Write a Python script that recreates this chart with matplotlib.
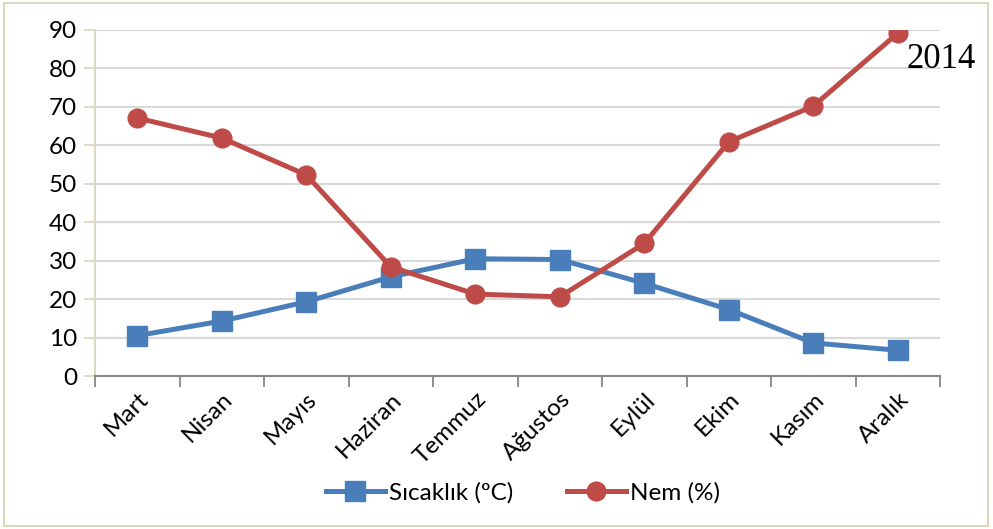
import matplotlib.pyplot as plt
from matplotlib.patches import Rectangle
import numpy as np

months = ["Mart", "Nisan", "Mayıs", "Haziran", "Temmuz", "Ağustos",
          "Eylül", "Ekim", "Kasım", "Aralık"]
sicaklik = [10.5, 14.3, 19.3, 25.8, 30.5, 30.3, 24.1, 17.3, 8.6, 6.7]
nem = [67.1, 61.9, 52.3, 28.4, 21.3, 20.6, 34.5, 60.9, 70.2, 89.2]

blue = "#4a7ebb"
red = "#be4b48"

plt.rcParams["font.family"] = ["Lato", "DejaVu Sans"]

fig = plt.figure(figsize=(9.93, 5.29), dpi=100)
ax = fig.add_axes([0.0957, 0.2892, 0.851, 0.6541])

x = np.arange(len(months)) + 0.5
ax.plot(x, sicaklik, color=blue, lw=3.6, marker="s", ms=14.5,
        mec=blue, mfc=blue, label="Sıcaklık (ºC)", zorder=3)
ax.plot(x, nem, color=red, lw=3.6, marker="o", ms=13.5,
        mec=red, mfc=red, label="Nem (%)", zorder=4)

ax.set_xlim(0, len(months))
ax.set_ylim(0, 90)
ax.set_yticks(range(0, 91, 10))
ax.yaxis.grid(True, color="#d9d9d9", lw=1.5)
ax.set_axisbelow(True)

ax.set_xticks(range(len(months) + 1))
ax.set_xticklabels([])
ax.set_xticks(x, minor=True)
ax.set_xticklabels(months, minor=True, rotation=45, ha="right",
                   rotation_mode="anchor", fontsize=17.5)
ax.tick_params(axis="x", which="major", length=8, width=1.3, color="#868686")
ax.tick_params(axis="x", which="minor", length=0, pad=9)
ax.tick_params(axis="y", length=8, width=1.3, color="#ddd8bf",
               labelsize=17.5, pad=5)

for s in ["top", "right"]:
    ax.spines[s].set_visible(False)
ax.spines["left"].set_color("#ddd8bf")
ax.spines["left"].set_linewidth(1.5)
ax.spines["bottom"].set_color("#868686")
ax.spines["bottom"].set_linewidth(1.5)

# year label placed in pixel coordinates
fig.text(907 / 993, (529 - 68) / 529, "2014", fontsize=25,
         family="Liberation Serif", va="baseline", ha="left")

fig.legend(loc="center", bbox_to_anchor=(0.527, 0.068), ncol=2,
           frameon=False, fontsize=17.5, handlelength=2.4, columnspacing=2.2,
           handletextpad=0.2)

fig.patches.append(Rectangle((0.004, 0.006), 0.991, 0.988,
                             transform=fig.transFigure, fill=False,
                             edgecolor="#dcd8c0", lw=1.5))

fig.savefig("out.png", dpi=100)
